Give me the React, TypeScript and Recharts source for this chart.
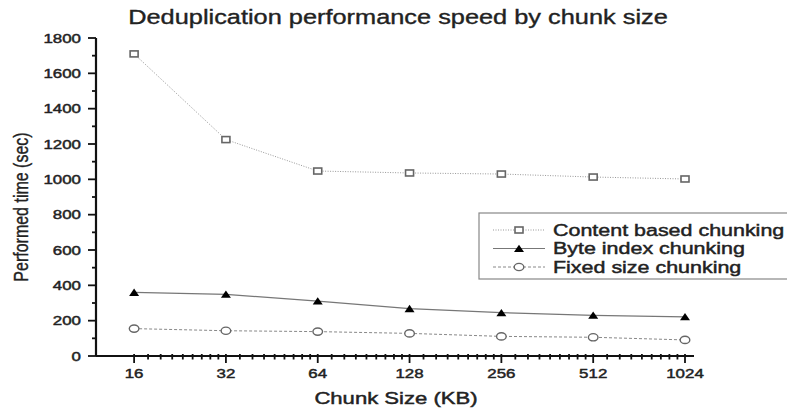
import React from 'react';
import { LineChart, Line, XAxis, YAxis, Customized } from 'recharts';

const chunkSizes = [16, 32, 64, 128, 256, 512, 1024];
const contentBased = [1710, 1225, 1047, 1036, 1030, 1013, 1002];
const byteIndex = [360, 349, 311, 268, 245, 230, 222];
const fixedSize = [155, 143, 138, 128, 111, 106, 91];
const seriesNames = ['Content based chunking', 'Byte index chunking', 'Fixed size chunking'];
const yTicks = [0, 100, 200, 300, 400, 500, 600, 700, 800, 900, 1000, 1100, 1200, 1300, 1400, 1500, 1600, 1700, 1800];

const minorTicks: number[] = [];
chunkSizes.slice(0, -1).forEach((s) => {
  for (let k = 1; k <= 8; k++) minorTicks.push(s * (1 + k / 9));
});
const xTicks = [...chunkSizes, ...minorTicks].sort((a, b) => a - b);

const data = chunkSizes.map((size, i) => ({
  size,
  content: contentBased[i],
  byte: byteIndex[i],
  fixed: fixedSize[i],
}));

const SX = 1.3;
const FONT = "'Liberation Sans', Arial, sans-serif";

function SText({ x, y, anchor = 'middle', size, children, rotate = 0, baseline, fill = '#222', sw = 0.45 }: any) {
  return (
    <text
      transform={`translate(${x},${y}) scale(${SX},1)${rotate ? ` rotate(${rotate})` : ''}`}
      textAnchor={anchor}
      fontSize={size}
      fontFamily={FONT}
      fill={fill}
      stroke={fill}
      strokeWidth={sw}
      dominantBaseline={baseline}
    >
      {children}
    </text>
  );
}

const YTick = (props: any) => {
  const { x, y, payload } = props;
  const v = payload.value;
  const major = v % 200 === 0;
  return (
    <g>
      <line x1={x - (major ? 8 : 4)} x2={x} y1={y} y2={y} stroke="#111" strokeWidth={1.8} />
      {major && (
        <SText x={x - 15} y={y} anchor="end" size={13} baseline="central">
          {v}
        </SText>
      )}
    </g>
  );
};

const XTick = (props: any) => {
  const { x, y, payload } = props;
  const v = payload.value;
  const major = chunkSizes.some((c) => Math.abs(c - v) < 1e-6);
  return (
    <g>
      <line x1={x} x2={x} y1={y - 2} y2={y + (major ? 7 : 3.5)} stroke="#111" strokeWidth={1.8} />
      {major && (
        <SText x={x} y={y + 22} size={13}>
          {v}
        </SText>
      )}
    </g>
  );
};

const SquareDot = ({ cx, cy }: any) =>
  cx == null ? null : <rect x={cx - 4} y={cy - 3} width={8} height={6} fill="#fff" stroke="#666" strokeWidth={1.6} />;
const TriDot = ({ cx, cy }: any) =>
  cx == null ? null : <polygon points={`${cx - 5},${cy + 3.5} ${cx + 5},${cy + 3.5} ${cx},${cy - 3.8}`} fill="#000" />;
const CircleDot = ({ cx, cy }: any) =>
  cx == null ? null : <ellipse cx={cx} cy={cy} rx={4.8} ry={3.6} fill="#fff" stroke="#666" strokeWidth={1.4} />;

const seriesStyles = [
  { stroke: '#999', dash: '1 1.5', width: 1, Dot: SquareDot },
  { stroke: '#777', dash: undefined, width: 1.2, Dot: TriDot },
  { stroke: '#888', dash: '3 2', width: 1, Dot: CircleDot },
];

const Overlay = () => {
  const rows = [230, 248.5, 267];
  return (
    <g>
      <SText x={398} y={24} size={19.5} sw={0.35}>Deduplication performance speed by chunk size</SText>
      <SText x={396} y={404} size={17}>Chunk Size (KB)</SText>
      <SText x={21} y={207} size={16} rotate={-90} baseline="central" sw={0.3}>Performed time (sec)</SText>
      <rect x={479} y={213} width={400} height={66} fill="#fff" stroke="#888" strokeWidth={1.2} />
      {seriesNames.map((name, i) => {
        const st = seriesStyles[i];
        const D = st.Dot;
        return (
          <g key={name}>
            <line x1={493} x2={545} y1={rows[i]} y2={rows[i]} stroke={st.stroke} strokeWidth={st.width} strokeDasharray={st.dash} />
            <D cx={519} cy={rows[i]} />
            <SText x={553} y={rows[i]} anchor="start" size={16.5} baseline="central">{name}</SText>
          </g>
        );
      })}
    </g>
  );
};

export default function App() {
  return (
    <div style={{ position: 'absolute', left: 0, top: 0, background: '#fff' }}>
      <LineChart width={787} height={411} data={data} margin={{ top: 38, right: 93, bottom: 0, left: 0 }}>
        <XAxis
          dataKey="size"
          type="number"
          scale="log"
          domain={[12, 1096]}
          allowDataOverflow
          ticks={xTicks}
          interval={0}
          tickSize={0}
          tickMargin={0}
          tick={<XTick />}
          height={55}
          axisLine={{ stroke: '#111', strokeWidth: 2.2 }}
        />
        <YAxis
          type="number"
          domain={[0, 1800]}
          ticks={yTicks}
          interval={0}
          tickSize={0}
          tickMargin={0}
          tick={<YTick />}
          width={96}
          axisLine={{ stroke: '#111', strokeWidth: 2.2 }}
        />
        <Line dataKey="content" stroke="#999" strokeWidth={1} strokeDasharray="1 1.5" dot={<SquareDot />} isAnimationActive={false} />
        <Line dataKey="byte" stroke="#777" strokeWidth={1.2} dot={<TriDot />} isAnimationActive={false} />
        <Line dataKey="fixed" stroke="#888" strokeWidth={1} strokeDasharray="3 2" dot={<CircleDot />} isAnimationActive={false} />
        <Customized component={<Overlay />} />
      </LineChart>
    </div>
  );
}
